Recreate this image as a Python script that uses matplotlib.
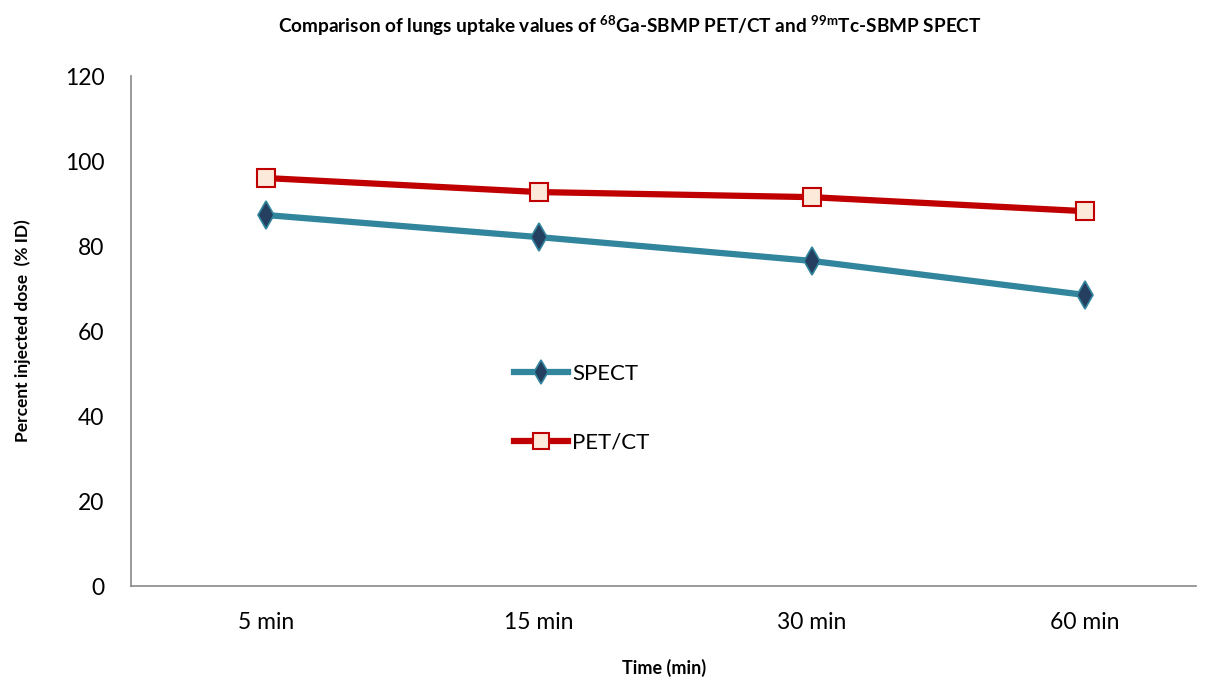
import matplotlib
matplotlib.use("Agg")
import matplotlib.pyplot as plt

categories = ["5 min", "15 min", "30 min", "60 min"]
spect = [87.3, 82.1, 76.5, 68.5]
petct = [96.0, 92.7, 91.5, 88.2]
yticks = [0, 20, 40, 60, 80, 100, 120]

plt.rcParams['font.family'] = ['Lato', 'DejaVu Sans']
plt.rcParams['mathtext.fontset'] = 'custom'
plt.rcParams['mathtext.rm'] = 'Lato'
plt.rcParams['mathtext.bf'] = 'Lato:bold'

fig = plt.figure(figsize=(12.11, 6.77), dpi=100)
ax = fig.add_axes([0.108, 0.1344, 0.880, 0.7533])
x = list(range(len(categories)))

ax.plot(x, spect, color='#31859C', lw=4.5, marker='d', markersize=14,
        markerfacecolor='#243F60', markeredgecolor='#31859C', markeredgewidth=1.2,
        label='SPECT', zorder=3)
ax.plot(x, petct, color='#C00000', lw=4.5, marker='s', markersize=13,
        markerfacecolor='#FDE9D9', markeredgecolor='#C00000', markeredgewidth=1.5,
        label='PET/CT', zorder=3)

ax.set_xlim(-0.4945, 3.41)
ax.set_ylim(0, 120)
ax.set_xticks(x)
ax.set_xticklabels(categories)
ax.set_yticks(yticks)
ax.tick_params(axis='both', length=0, labelsize=16.5, colors='black')
ax.tick_params(axis='x', pad=19)
ax.tick_params(axis='y', pad=19)
for s in ['top', 'right']:
    ax.spines[s].set_visible(False)
for s in ['left', 'bottom']:
    ax.spines[s].set_color('#898989')
    ax.spines[s].set_linewidth(1.2)

ax.set_xlabel('Time (min)', fontsize=13, fontweight='bold', labelpad=18)
ax.set_ylabel('Percent injected dose  (% ID)', fontsize=12.5, fontweight='bold', labelpad=24)

fig.text(0.52, 0.962,
         r'Comparison of lungs uptake values of $\mathbf{^{68}}$Ga-SBMP PET/CT and $\mathbf{^{99m}}$Tc-SBMP SPECT',
         ha='center', va='center', fontsize=13.7, fontweight='bold')

leg = ax.legend(loc='center left', bbox_to_anchor=(0.36, 0.349), frameon=False,
                fontsize=16, labelspacing=2.2, handlelength=2.4, handletextpad=0.2,
                borderpad=0, borderaxespad=0, markerscale=0.85)

fig.savefig('out.png', dpi=100)
